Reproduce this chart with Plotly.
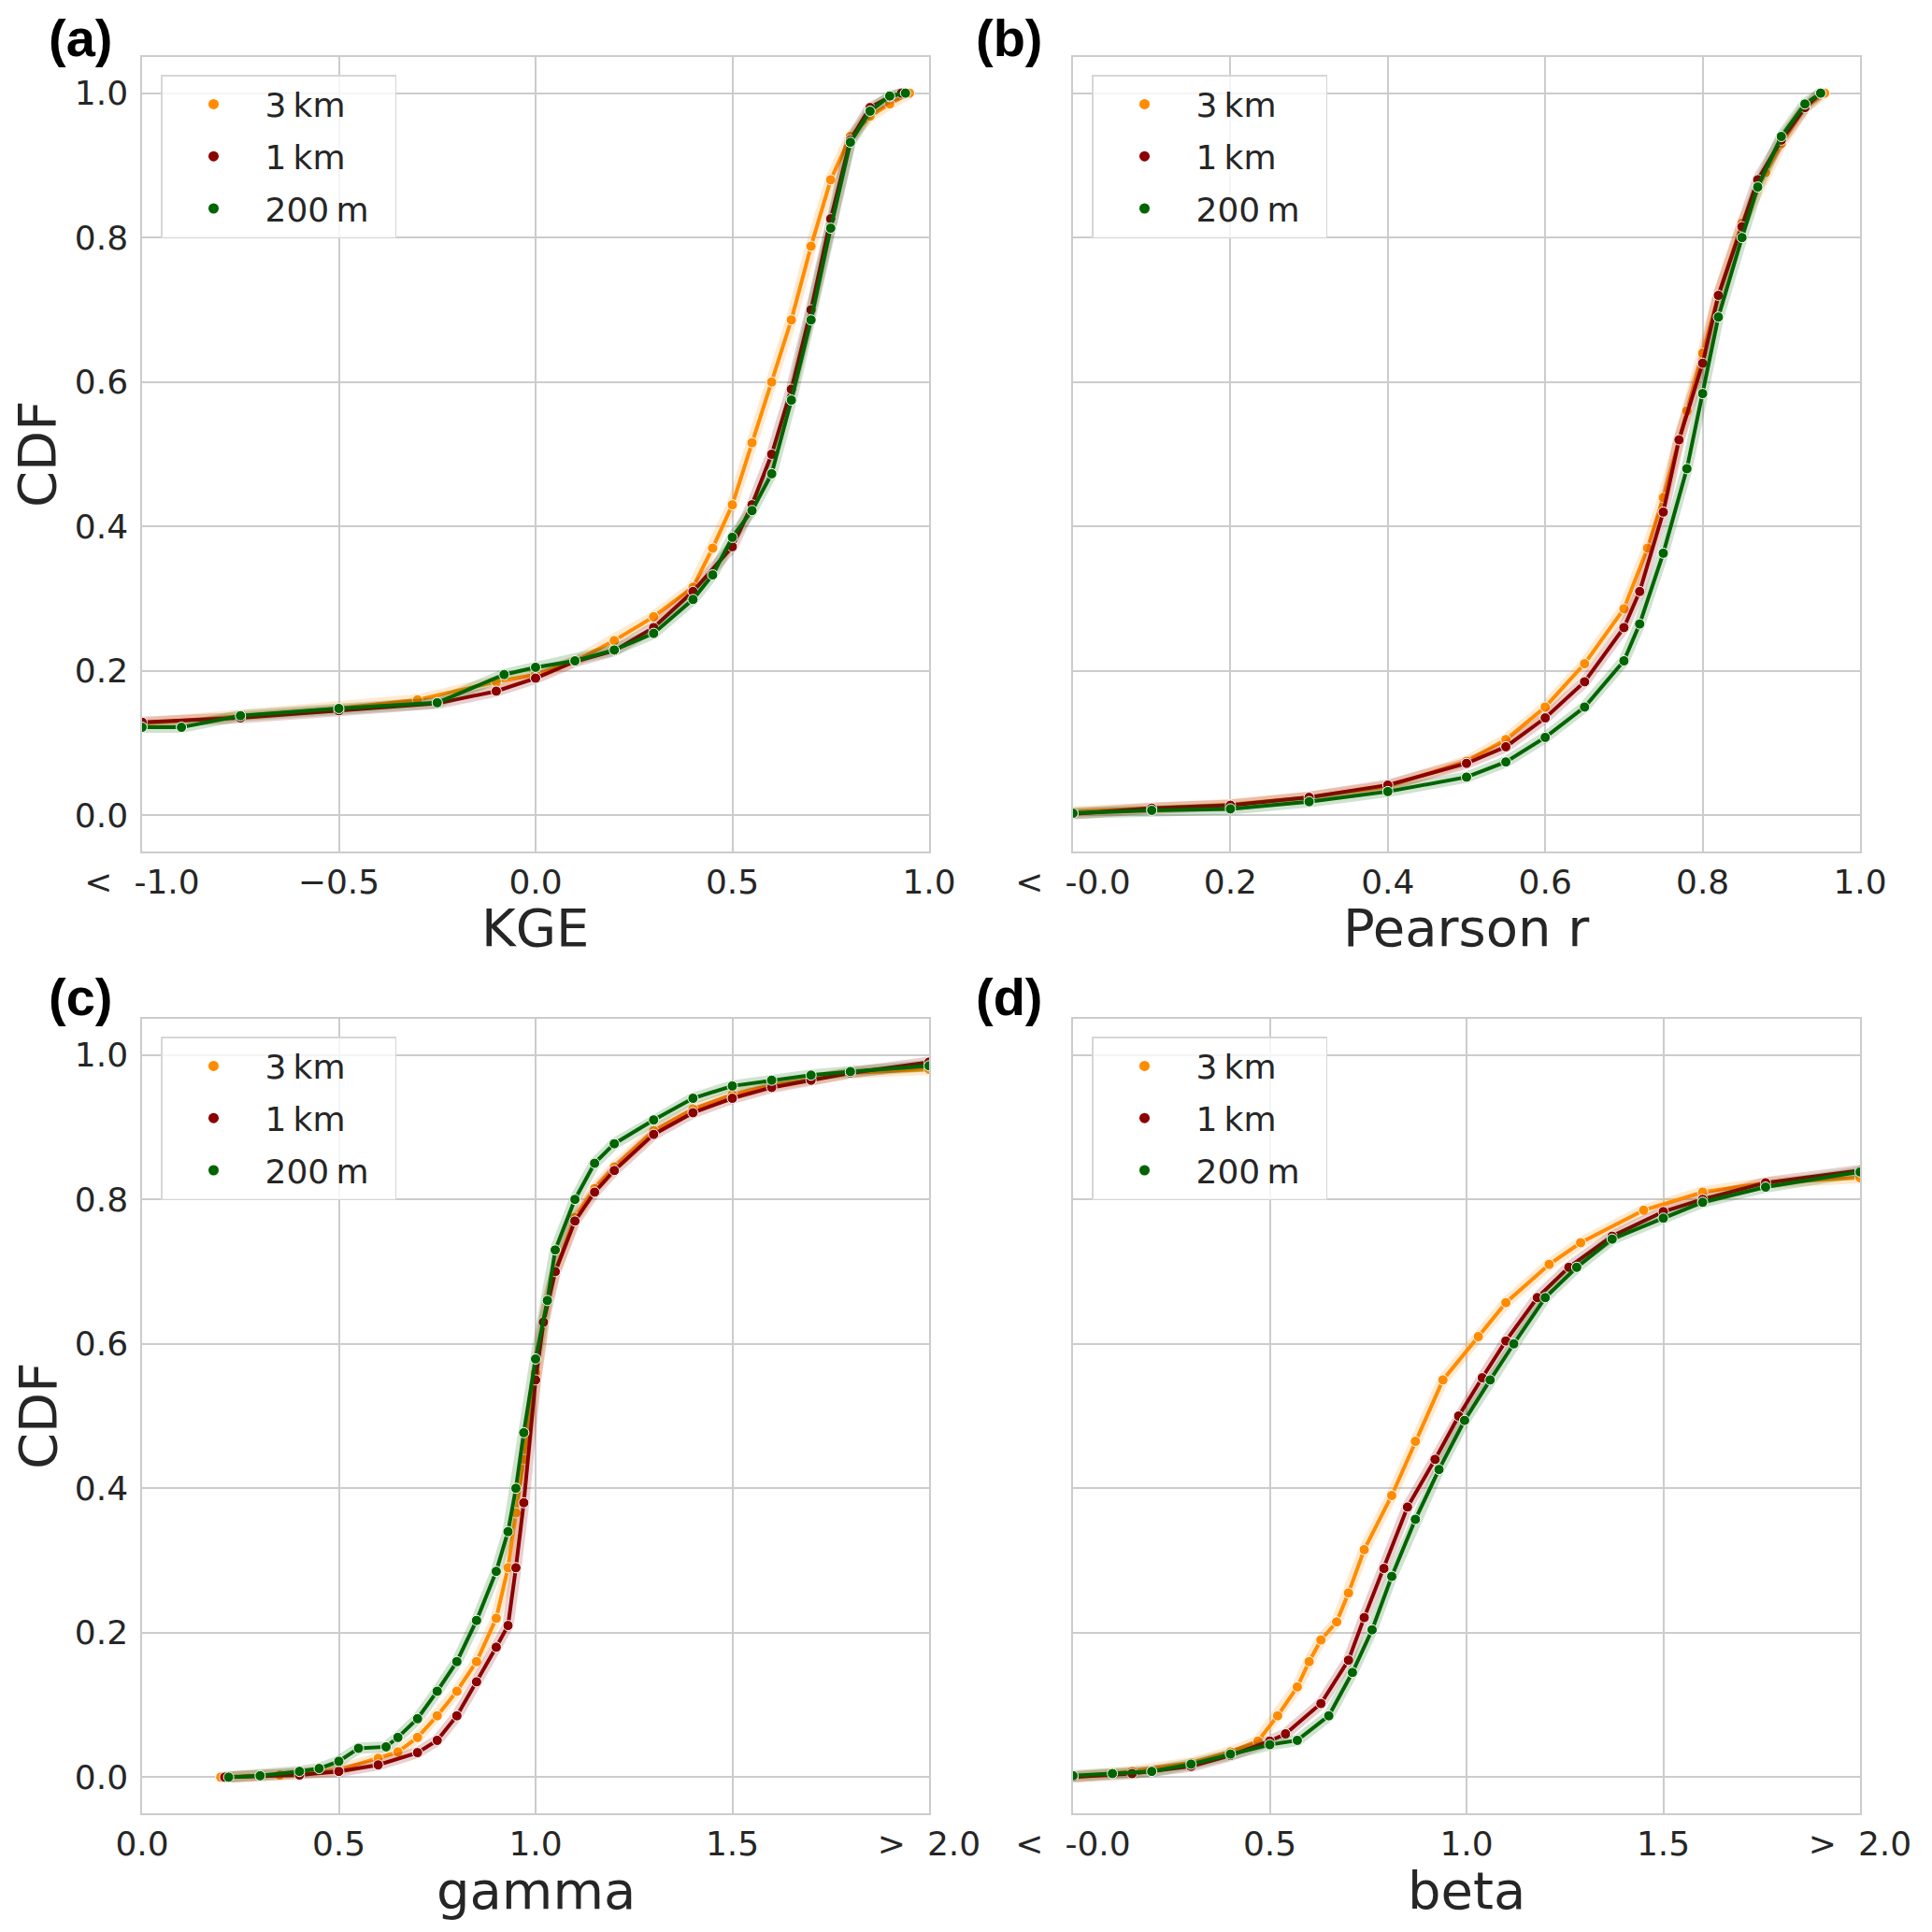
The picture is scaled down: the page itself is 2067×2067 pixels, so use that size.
import plotly.graph_objects as go

# colours of the three model resolutions
labels = ["3\u2009km", "1\u2009km", "200\u2009m"]
colors = ["#ff8c00", "#8b0000", "#006400"]

# (a) KGE  -- CDF values
kge_3km_x = [-1.0, -0.75, -0.5, -0.3, -0.1, 0.0, 0.1, 0.2, 0.3, 0.4, 0.45, 0.5, 0.55, 0.6, 0.65, 0.7, 0.75, 0.8, 0.85, 0.9, 0.95]
kge_3km_y = [0.127, 0.138, 0.148, 0.16, 0.185, 0.195, 0.213, 0.242, 0.275, 0.316, 0.37, 0.43, 0.516, 0.6, 0.686, 0.788, 0.88, 0.94, 0.968, 0.985, 1.0]
kge_1km_x = [-1.0, -0.75, -0.5, -0.25, -0.1, 0.0, 0.1, 0.2, 0.3, 0.4, 0.5, 0.55, 0.6, 0.65, 0.7, 0.75, 0.8, 0.85, 0.9, 0.93]
kge_1km_y = [0.129, 0.135, 0.145, 0.155, 0.172, 0.19, 0.213, 0.228, 0.26, 0.31, 0.372, 0.43, 0.5, 0.59, 0.7, 0.826, 0.935, 0.98, 0.995, 1.0]
kge_200m_x = [-1.0, -0.9, -0.75, -0.5, -0.25, -0.08, 0.0, 0.1, 0.2, 0.3, 0.4, 0.45, 0.5, 0.55, 0.6, 0.65, 0.7, 0.75, 0.8, 0.85, 0.9, 0.94]
kge_200m_y = [0.122, 0.122, 0.138, 0.148, 0.156, 0.195, 0.205, 0.214, 0.229, 0.252, 0.299, 0.333, 0.385, 0.422, 0.473, 0.575, 0.686, 0.813, 0.932, 0.975, 0.996, 1.0]

# (b) Pearson r
r_3km_x = [0.0, 0.1, 0.2, 0.3, 0.4, 0.5, 0.55, 0.6, 0.65, 0.7, 0.73, 0.75, 0.78, 0.8, 0.82, 0.85, 0.88, 0.9, 0.93, 0.955]
r_3km_y = [0.005, 0.01, 0.015, 0.025, 0.04, 0.075, 0.105, 0.15, 0.21, 0.286, 0.37, 0.44, 0.56, 0.64, 0.72, 0.82, 0.89, 0.93, 0.98, 1.0]
r_1km_x = [0.0, 0.1, 0.2, 0.3, 0.4, 0.5, 0.55, 0.6, 0.65, 0.7, 0.72, 0.75, 0.77, 0.8, 0.82, 0.85, 0.87, 0.9, 0.93, 0.95]
r_1km_y = [0.002, 0.01, 0.014, 0.025, 0.042, 0.072, 0.095, 0.135, 0.185, 0.26, 0.31, 0.42, 0.52, 0.626, 0.72, 0.815, 0.88, 0.935, 0.98, 1.0]
r_200m_x = [0.0, 0.1, 0.2, 0.3, 0.4, 0.5, 0.55, 0.6, 0.65, 0.7, 0.72, 0.75, 0.78, 0.8, 0.82, 0.85, 0.87, 0.9, 0.93, 0.95]
r_200m_y = [0.003, 0.007, 0.009, 0.019, 0.033, 0.053, 0.074, 0.108, 0.15, 0.214, 0.265, 0.363, 0.48, 0.584, 0.69, 0.8, 0.87, 0.94, 0.985, 1.0]

# (c) gamma
g_3km_x = [0.2, 0.35, 0.5, 0.6, 0.65, 0.7, 0.75, 0.8, 0.85, 0.9, 0.93, 0.95, 0.97, 1.0, 1.03, 1.05, 1.1, 1.15, 1.2, 1.3, 1.4, 1.5, 1.6, 1.7, 1.8, 2.0]
g_3km_y = [0.0, 0.003, 0.01, 0.026, 0.035, 0.055, 0.085, 0.119, 0.16, 0.22, 0.29, 0.366, 0.44, 0.56, 0.66, 0.70, 0.775, 0.815, 0.845, 0.895, 0.925, 0.945, 0.958, 0.966, 0.975, 0.98]
g_1km_x = [0.21, 0.4, 0.5, 0.6, 0.7, 0.75, 0.8, 0.85, 0.9, 0.93, 0.95, 0.97, 1.0, 1.02, 1.05, 1.1, 1.15, 1.2, 1.3, 1.4, 1.5, 1.6, 1.7, 1.8, 2.0]
g_1km_y = [0.0, 0.003, 0.008, 0.017, 0.034, 0.051, 0.085, 0.132, 0.18, 0.21, 0.29, 0.38, 0.55, 0.63, 0.70, 0.77, 0.81, 0.84, 0.89, 0.92, 0.94, 0.955, 0.965, 0.975, 0.99]
g_200m_x = [0.22, 0.3, 0.4, 0.45, 0.5, 0.55, 0.62, 0.65, 0.7, 0.75, 0.8, 0.85, 0.9, 0.93, 0.95, 0.97, 1.0, 1.03, 1.05, 1.1, 1.15, 1.2, 1.3, 1.4, 1.5, 1.6, 1.7, 1.8, 2.0]
g_200m_y = [0.0, 0.002, 0.008, 0.012, 0.022, 0.04, 0.042, 0.055, 0.081, 0.119, 0.16, 0.217, 0.285, 0.34, 0.40, 0.477, 0.579, 0.66, 0.73, 0.80, 0.85, 0.877, 0.91, 0.94, 0.957, 0.965, 0.972, 0.977, 0.985]

# (d) beta
b_3km_x = [0.0, 0.15, 0.3, 0.4, 0.47, 0.52, 0.57, 0.6, 0.63, 0.67, 0.7, 0.74, 0.81, 0.87, 0.94, 1.03, 1.1, 1.21, 1.29, 1.45, 1.6, 1.76, 2.0]
b_3km_y = [0.0, 0.008, 0.02, 0.035, 0.05, 0.085, 0.125, 0.16, 0.19, 0.215, 0.255, 0.315, 0.39, 0.465, 0.55, 0.61, 0.657, 0.71, 0.74, 0.785, 0.81, 0.823, 0.83]
b_1km_x = [0.0, 0.15, 0.3, 0.4, 0.5, 0.54, 0.63, 0.7, 0.74, 0.79, 0.85, 0.92, 0.98, 1.04, 1.1, 1.18, 1.26, 1.37, 1.5, 1.6, 1.76, 2.0]
b_1km_y = [0.0, 0.005, 0.015, 0.03, 0.05, 0.06, 0.102, 0.162, 0.221, 0.289, 0.374, 0.44, 0.50, 0.553, 0.604, 0.664, 0.706, 0.749, 0.783, 0.80, 0.823, 0.84]
b_200m_x = [0.0, 0.1, 0.2, 0.3, 0.4, 0.5, 0.57, 0.65, 0.71, 0.76, 0.81, 0.87, 0.93, 0.995, 1.06, 1.12, 1.2, 1.28, 1.37, 1.5, 1.6, 1.76, 2.0]
b_200m_y = [0.002, 0.005, 0.008, 0.018, 0.032, 0.045, 0.051, 0.085, 0.145, 0.204, 0.278, 0.357, 0.426, 0.494, 0.55, 0.60, 0.664, 0.706, 0.745, 0.774, 0.796, 0.817, 0.838]

panels = [
    ("KGE", [(kge_3km_x, kge_3km_y), (kge_1km_x, kge_1km_y), (kge_200m_x, kge_200m_y)]),
    ("Pearson r", [(r_3km_x, r_3km_y), (r_1km_x, r_1km_y), (r_200m_x, r_200m_y)]),
    ("gamma", [(g_3km_x, g_3km_y), (g_1km_x, g_1km_y), (g_200m_x, g_200m_y)]),
    ("beta", [(b_3km_x, b_3km_y), (b_1km_x, b_1km_y), (b_200m_x, b_200m_y)]),
]
panel_tags = ["(a)", "(b)", "(c)", "(d)"]

x_ranges = [[-1, 1], [0, 1], [0, 2], [0, 2]]
x_tickvals = [[-1, -0.5, 0, 0.5, 1], [0, 0.2, 0.4, 0.6, 0.8, 1.0], [0, 0.5, 1, 1.5, 2], [0, 0.5, 1, 1.5, 2]]
x_ticktext = [
    ["<  -1.0", "\u22120.5", "0.0", "0.5", "1.0"],
    ["<  -0.0", "0.2", "0.4", "0.6", "0.8", "1.0"],
    ["0.0", "0.5", "1.0", "1.5", ">  2.0"],
    ["<  -0.0", "0.5", "1.0", "1.5", ">  2.0"],
]
y_tickvals = [0, 0.2, 0.4, 0.6, 0.8, 1.0]
y_ticktext = ["0.0", "0.2", "0.4", "0.6", "0.8", "1.0"]

W = 2067
OFF = 8  # the page body adds 8 px before the figure
# plot boxes in pixels: left/right per column, top/bottom per row
col_px = [(152 - OFF, 994 - OFF), (1148 - OFF, 1990 - OFF)]
row_px = [(61 - OFF, 911 - OFF), (1090 - OFF, 1940 - OFF)]
x_doms = [[a / W, b / W] for a, b in col_px]
y_doms = [[1 - b / W, 1 - a / W] for a, b in row_px]

FONT = "DejaVu Sans"
TXT = "#262626"
GRID = "#cccccc"

fig = go.Figure()
layout = {}
annotations = []

for i, (title, series) in enumerate(panels):
    n = i + 1
    sfx = "" if n == 1 else str(n)
    leg = "legend" if n == 1 else "legend%d" % n
    row, col = divmod(i, 2)

    for (xs, ys), name, c in zip(series, labels, colors):
        # soft band that stands in for the dense marker cloud
        fig.add_trace(go.Scatter(x=xs, y=ys, mode="lines", line=dict(color=c, width=12),
                                 opacity=0.18, showlegend=False, hoverinfo="skip",
                                 xaxis="x" + sfx, yaxis="y" + sfx))
        fig.add_trace(go.Scatter(x=xs, y=ys, mode="lines+markers",
                                 line=dict(color=c, width=4),
                                 marker=dict(color=c, size=11, line=dict(color="white", width=1)),
                                 showlegend=False, xaxis="x" + sfx, yaxis="y" + sfx))
        # legend entry only
        fig.add_trace(go.Scatter(x=[None], y=[None], mode="markers", name=name + "\u00a0\u00a0",
                                 marker=dict(color=c, size=11), legend=leg, legendgroup=name + sfx,
                                 xaxis="x" + sfx, yaxis="y" + sfx))

    layout["xaxis" + sfx] = dict(
        domain=x_doms[col], anchor="y" + sfx, range=x_ranges[i],
        tickvals=x_tickvals[i], ticktext=x_ticktext[i],
        showgrid=True, gridcolor=GRID, gridwidth=1.5,
        showline=True, linecolor=GRID, linewidth=1.5, mirror=True,
        zeroline=False, ticks="", ticklabelstandoff=0, automargin=False,
        tickfont=dict(family=FONT, size=36, color=TXT),
    )
    layout["yaxis" + sfx] = dict(
        domain=y_doms[row], anchor="x" + sfx, range=[-0.05, 1.05],
        tickvals=y_tickvals, ticktext=y_ticktext, showticklabels=(col == 0),
        showgrid=True, gridcolor=GRID, gridwidth=1.5,
        showline=True, linecolor=GRID, linewidth=1.5, mirror=True,
        zeroline=False, ticks="", ticklabelstandoff=6, automargin=False,
        tickfont=dict(family=FONT, size=36, color=TXT),
    )
    layout[leg] = dict(
        x=(col_px[col][0] + 20) / W, y=1 - (row_px[row][0] + 19) / W,
        xanchor="left", yanchor="top",
        bgcolor="rgba(255,255,255,0.8)", bordercolor="#d6d6d6", borderwidth=1.5,
        font=dict(family=FONT, size=36, color=TXT),
        traceorder="grouped", tracegroupgap=6, itemwidth=100,
    )
    # panel tag
    annotations.append(dict(
        text="<b>%s</b>" % panel_tags[i], xref="paper", yref="paper",
        x=(86 - OFF if col == 0 else 1080 - OFF) / W, y=1 - (33 if row == 0 else 1058) / W,
        xanchor="center", yanchor="middle", showarrow=False, borderpad=0,
        font=dict(family="Liberation Sans", size=56, color="black"),
    ))
    # x axis title
    annotations.append(dict(
        text=title, xref="paper", yref="paper",
        x=(col_px[col][0] + col_px[col][1]) / 2 / W, y=1 - (row_px[row][1] + 82) / W,
        xanchor="center", yanchor="middle", showarrow=False,
        font=dict(family=FONT, size=56, color=TXT),
    ))
    if col == 0:
        annotations.append(dict(
            text="CDF", xref="paper", yref="paper", textangle=-90,
            x=(40 - OFF) / W, y=1 - (row_px[row][0] + row_px[row][1]) / 2 / W,
            xanchor="center", yanchor="middle", showarrow=False,
            font=dict(family=FONT, size=56, color=TXT),
        ))

fig.update_layout(**layout)
fig.update_layout(
    width=W, height=W,
    margin=dict(l=0, r=0, t=0, b=0, autoexpand=False),
    paper_bgcolor="white", plot_bgcolor="white",
    annotations=annotations,
)

fig.write_html("out.html")
